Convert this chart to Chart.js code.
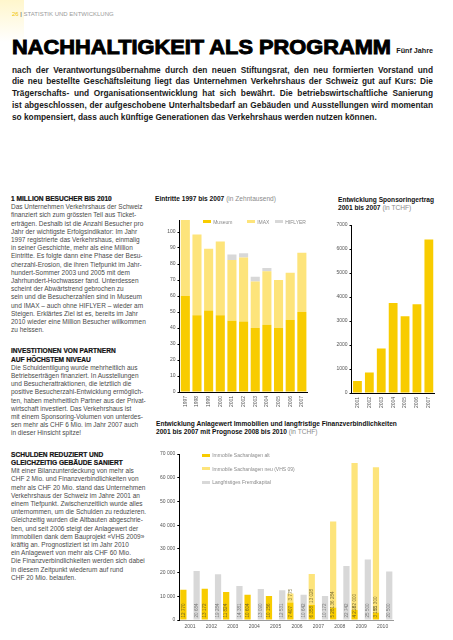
<!DOCTYPE html>
<html lang="de">
<head>
<meta charset="UTF-8">
<meta name="viewport" content="width=453, initial-scale=1.0">
<title>Nachhaltigkeit als Programm</title>
<script src="https://cdn.jsdelivr.net/npm/chart.js"></script>
<style>
    body {
        margin: 0;
        width: 453px;
        height: 640px;
        position: relative;
        overflow: hidden;
        background: #fff;
        font-family: 'Liberation Sans', Arial, sans-serif;
        color: #222;
    }

    .abs { position: absolute; }

    .corner {
        left: 0; top: 0; width: 24px; height: 42px;
        background: linear-gradient(#fff6cc, #ffffff);
    }

    .folio {
        left: 12px; top: 10px;
        font-size: 6px; line-height: 8px;
        color: #9a9a9a;
    }
    .folio .num { color: #f0c400; }
    .folio .bar { color: #333; }

    .headline {
        left: 12px; top: 36.6px; width: 421px; height: 20px;
    }
    .headline .big {
        position: absolute; left: 0; top: 0;
        font-size: 19.8px; line-height: 20px; font-weight: bold; color: #000;
        -webkit-text-stroke: 0.9px #000;
        transform-origin: left center;
        white-space: nowrap;
    }
    .headline .small {
        position: absolute; right: 0; top: 9.4px;
        font-size: 7.2px; line-height: 10px; font-weight: bold; color: #1a1a1a;
    }

    .intro {
        left: 12px; top: 64.5px; width: 421px;
        font-size: 8.3px; font-weight: bold; color: #1a1a1a;
        line-height: 11.8px;
    }
    .intro .fit { text-align: justify; text-align-last: justify; }

    .col {
        left: 11px; top: 195px; width: 142px;
        font-size: 6.5px; line-height: 8.2px; color: #4a4a4a;
    }
    .col h4 {
        margin: 0; font-size: 6.6px; font-weight: bold; color: #111;
        -webkit-text-stroke: 0.2px #111;
    }
    .col h4.gap { margin-top: 13px; }
    .col p { margin: 0; white-space: nowrap; }

    .ctitle {
        font-size: 6.6px; line-height: 8.3px; color: #111;
        white-space: nowrap;
    }
    .ctitle b { font-weight: bold; }
    .ctitle span { color: #8a8a8a; }

    canvas { position: absolute; }

    .legend { font-size: 5px; color: #8a8a8a; white-space: nowrap; }
    .legend .item { display: flex; align-items: center; height: 6px; }
    .legend .sw { display: inline-block; width: 8.5px; height: 3px; margin-right: 2px; }
    #legend1 { left: 202.7px; top: 218.5px; display: flex; }
    #legend1 .item:nth-child(1) { width: 44px; }
    #legend1 .item:nth-child(2) { width: 28px; }
    #legend3 { left: 201.7px; top: 452px; }
    #legend3 .item { margin-bottom: 7.7px; }
</style>
</head>
<body>
    <div class="abs corner"></div>
    <div class="abs folio"><span class="num">26</span> <span class="bar">|</span> STATISTIK UND ENTWICKLUNG</div>

    <div class="abs headline">
        <span class="big" id="headline">NACHHALTIGKEIT ALS PROGRAMM</span>
        <span class="small">Fünf Jahre</span>
    </div>
    <div class="abs intro">
        <div class="fit">nach der Verantwortungsübernahme durch den neuen Stiftungsrat, den neu formierten Vorstand und</div>
        <div class="fit">die neu bestellte Geschäftsleitung liegt das Unternehmen Verkehrshaus der Schweiz gut auf Kurs: Die</div>
        <div class="fit">Trägerschafts- und Organisationsentwicklung hat sich bewährt. Die betriebswirtschaftliche Sanierung</div>
        <div class="fit">ist abgeschlossen, der aufgeschobene Unterhaltsbedarf an Gebäuden und Ausstellungen wird momentan</div>
        <div>so kompensiert, dass auch künftige Generationen das Verkehrshaus werden nutzen können.</div>
    </div>

    <div class="abs col">
        <h4>1 MILLION BESUCHER BIS 2010</h4>
        <p>Das Unternehmen Verkehrshaus der Schweiz<br>
        finanziert sich zum grössten Teil aus Ticket-<br>
        erträgen. Deshalb ist die Anzahl Besucher pro<br>
        Jahr der wichtigste Erfolgsindikator: Im Jahr<br>
        1997 registrierte das Verkehrshaus, einmalig<br>
        in seiner Geschichte, mehr als eine Million<br>
        Eintritte. Es folgte dann eine Phase der Besu-<br>
        cherzahl-Erosion, die ihren Tiefpunkt im Jahr-<br>
        hundert-Sommer 2003 und 2005 mit dem<br>
        Jahrhundert-Hochwasser fand. Unterdessen<br>
        scheint der Abwärtstrend gebrochen zu<br>
        sein und die Besucherzahlen sind in Museum<br>
        und IMAX – auch ohne HIFLYER – wieder am<br>
        Steigen. Erklärtes Ziel ist es, bereits im Jahr<br>
        2010 wieder eine Million Besucher willkommen<br>
        zu heissen.</p>
        <h4 class="gap">INVESTITIONEN VON PARTNERN<br>AUF HÖCHSTEM NIVEAU</h4>
        <p>Die Schuldentilgung wurde mehrheitlich aus<br>
        Betriebserträgen finanziert. In Ausstellungen<br>
        und Besucherattraktionen, die letztlich die<br>
        positive Besucherzahl-Entwicklung ermöglich-<br>
        ten, haben mehrheitlich Partner aus der Privat-<br>
        wirtschaft investiert. Das Verkehrshaus ist<br>
        mit einem Sponsoring-Volumen von unterdes-<br>
        sen mehr als CHF 6 Mio. im Jahr 2007 auch<br>
        in dieser Hinsicht spitze!</p>
        <h4 class="gap">SCHULDEN REDUZIERT UND<br>GLEICHZEITIG GEBÄUDE SANIERT</h4>
        <p>Mit einer Bilanzunterdeckung von mehr als<br>
        CHF 2 Mio. und Finanzverbindlichkeiten von<br>
        mehr als CHF 20 Mio. stand das Unternehmen<br>
        Verkehrshaus der Schweiz im Jahre 2001 an<br>
        einem Tiefpunkt. Zwischenzeitlich wurde alles<br>
        unternommen, um die Schulden zu reduzieren.<br>
        Gleichzeitig wurden die Altbauten abgeschrie-<br>
        ben, und seit 2006 steigt der Anlagewert der<br>
        Immobilien dank dem Bauprojekt «VHS 2009»<br>
        kräftig an. Prognostiziert ist im Jahr 2010<br>
        ein Anlagewert von mehr als CHF 60 Mio.<br>
        Die Finanzverbindlichkeiten werden sich dabei<br>
        in diesem Zeitpunkt wiederum auf rund<br>
        CHF 20 Mio. belaufen.</p>
    </div>

    <div class="abs ctitle" style="left:155px; top:195px;"><b>Eintritte 1997 bis 2007</b> <span>(in Zehntausend)</span></div>
    <div class="abs ctitle" style="left:338px; top:195.5px;"><b>Entwicklung Sponsoringertrag</b><br><b>2001 bis 2007</b> <span>(in TCHF)</span></div>
    <div class="abs ctitle" style="left:156px; top:420px;"><b>Entwicklung Anlagewert Immobilien und langfristige Finanzverbindlichkeiten</b><br><b>2001 bis 2007 mit Prognose 2008 bis 2010</b> <span>(in TCHF)</span></div>

    <canvas id="visitors" width="162" height="212" style="left:150px; top:210px;"></canvas>
    <canvas id="sponsoring" width="122" height="207" style="left:318px; top:215px;"></canvas>
    <canvas id="assets" width="260" height="200" style="left:150px; top:440px;"></canvas>

    <div class="abs legend" id="legend1"></div>
    <div class="abs legend" id="legend3"></div>

<script>
    // Eintritte (in Zehntausend)
    const visitorYears = ['1997', '1998', '1999', '2000', '2001', '2002', '2003', '2004', '2005', '2006', '2007'];
    const museumVisitors = [60, 48, 51, 48, 44.5, 44, 40, 42, 40, 45, 50];
    const imaxVisitors = [47.5, 50.5, 38.5, 46, 38, 40, 29, 33.5, 30, 29.5, 37];
    const hiflyerVisitors = [0, 0, 0, 0, 3.5, 2.7, 3, 2, 0, 0, 0];
    const visitorTicks = [0, 10, 20, 30, 40, 50, 60, 70, 80, 90, 100];

    // Sponsoringertrag (TCHF)
    const sponsorYears = ['2001', '2002', '2003', '2004', '2005', '2006', '2007'];
    const sponsorIncome = [500, 850, 1850, 3750, 3200, 3700, 6400];
    const sponsorTicks = [0, 1000, 2000, 3000, 4000, 5000, 6000, 7000];

    // Anlagewert und Finanzverbindlichkeiten (TCHF)
    const assetYears = ['2001', '2002', '2003', '2004', '2005', '2006', '2007', '2008', '2009', '2010'];
    const assetsOld = [12770, 13172, 11824, 10604, 10156, 7407, 6358, 5281, 4218, 3155];
    const assetsNew = [0, 0, 0, 0, 0, 3775, 13028, 36284, 62000, 61300];
    const longTermDebt = [20684, 19284, 14381, 13090, 12531, 10642, 10172, 22742, 25500, 20500];
    const assetTicks = [0, 10000, 20000, 30000, 40000, 50000, 60000, 70000];

    const YELLOW = '#f8cc00';
    const PALE = '#fde47b';
    const GREY = '#d8d8d8';
    const FONT = "'Liberation Sans', Arial, sans-serif";
    const tickFont = { family: FONT, size: 5 };

    function thousands(v) {
        return String(v).replace(/\B(?=(\d{3})+(?!\d))/g, ' ');
    }

    function yAxis(max, ticks, width, fmt) {
        return {
            stacked: true,
            min: 0,
            max: max,
            afterBuildTicks: s => { s.ticks = ticks.map(v => ({ value: v })); },
            afterFit: s => { s.width = width; },
            border: { display: true, color: '#000', width: 1 },
            grid: { drawOnChartArea: false, drawTicks: true, tickLength: 2, color: '#000' },
            ticks: { font: tickFont, color: '#555', padding: 2, callback: v => fmt(v) }
        };
    }

    function xAxis(height, rotate, color, stacked) {
        return {
            stacked: stacked,
            afterFit: s => { s.height = height; },
            border: { display: true, color: color, width: 1 },
            grid: { display: false, drawTicks: false },
            ticks: { font: tickFont, color: '#555', autoSkip: false, minRotation: rotate, maxRotation: rotate, padding: 4 }
        };
    }

    function baseOptions(padding) {
        return {
            responsive: false,
            animation: false,
            events: [],
            layout: { padding: padding, autoPadding: false },
            plugins: { legend: { display: false }, tooltip: { enabled: false } }
        };
    }

    // values written upward inside the bars
    const barLabels = {
        id: 'barLabels',
        afterDatasetsDraw(chart) {
            const ctx = chart.ctx;
            chart.data.datasets.forEach((ds, i) => {
                const meta = chart.getDatasetMeta(i);
                meta.data.forEach((bar, j) => {
                    const v = ds.data[j];
                    if (!v) return;
                    ctx.save();
                    ctx.translate(bar.x, bar.base - 2);
                    ctx.rotate(-Math.PI / 2);
                    ctx.font = '4.6px ' + FONT;
                    ctx.textAlign = 'left';
                    ctx.textBaseline = 'middle';
                    ctx.fillStyle = ds.labelColor;
                    ctx.fillText(thousands(v), 0, 0);
                    ctx.restore();
                });
            });
        }
    };

    const visitorsOpts = baseOptions({ top: 10, right: 3.2, left: 0, bottom: 0 });
    visitorsOpts.scales = {
        x: xAxis(30, 90, '#000', true),
        y: yAxis(107.5, visitorTicks, 29.5, v => v)
    };
    const visitorsChart = new Chart(document.getElementById('visitors'), {
        type: 'bar',
        data: {
            labels: visitorYears,
            datasets: [
                { label: 'Museum', data: museumVisitors, backgroundColor: YELLOW },
                { label: 'IMAX', data: imaxVisitors, backgroundColor: PALE },
                { label: 'HIFLYER', data: hiflyerVisitors, backgroundColor: GREY }
            ].map(d => Object.assign(d, { barPercentage: 0.78, categoryPercentage: 1 }))
        },
        options: visitorsOpts
    });

    const sponsorOpts = baseOptions({ top: 10, right: 5.2, left: 0, bottom: 0 });
    sponsorOpts.scales = {
        x: xAxis(29, 90, '#000', false),
        y: yAxis(7000, sponsorTicks, 33.5, v => v)
    };
    new Chart(document.getElementById('sponsoring'), {
        type: 'bar',
        data: {
            labels: sponsorYears,
            datasets: [{ label: 'Sponsoringertrag', data: sponsorIncome, backgroundColor: YELLOW, barPercentage: 0.74, categoryPercentage: 1 }]
        },
        options: sponsorOpts
    });

    const assetOpts = baseOptions({ top: 14, right: 16.7, left: 0, bottom: 0 });
    assetOpts.scales = {
        x: xAxis(20, 0, '#9a9a9a', false),
        y: yAxis(70000, assetTicks, 29.3, thousands)
    };
    const assetChart = new Chart(document.getElementById('assets'), {
        type: 'bar',
        data: {
            labels: assetYears,
            datasets: [
                { label: 'Immobile Sachanlagen alt', data: assetsOld, backgroundColor: YELLOW, stack: 'assets', labelColor: '#6d6128' },
                { label: 'Immobile Sachanlagen neu (VHS 09)', data: assetsNew, backgroundColor: PALE, stack: 'assets', labelColor: '#7d7038' },
                { label: 'Langfristiges Fremdkapital', data: longTermDebt, backgroundColor: GREY, stack: 'debt', labelColor: '#7a7a7a' }
            ].map(d => Object.assign(d, { barPercentage: 0.94, categoryPercentage: 0.93 }))
        },
        options: assetOpts,
        plugins: [barLabels]
    });

    function buildLegend(el, chart) {
        chart.data.datasets.forEach(ds => {
            const item = document.createElement('div');
            item.className = 'item';
            const sw = document.createElement('span');
            sw.className = 'sw';
            sw.style.background = ds.backgroundColor;
            item.appendChild(sw);
            item.appendChild(document.createTextNode(ds.label));
            el.appendChild(item);
        });
    }
    buildLegend(document.getElementById('legend1'), visitorsChart);
    buildLegend(document.getElementById('legend3'), assetChart);

    // stretch the headline to its printed width (12px to 392px)
    const headline = document.getElementById('headline');
    headline.style.transform = 'scaleX(' + (379 / headline.getBoundingClientRect().width) + ')';

    // squeeze justified lines that would otherwise wrap
    document.querySelectorAll('.intro .fit').forEach(line => {
        let ls = 0;
        while (line.offsetHeight > 15 && ls > -1) {
            ls -= 0.05;
            line.style.letterSpacing = ls + 'px';
        }
    });
</script>
</body>
</html>
